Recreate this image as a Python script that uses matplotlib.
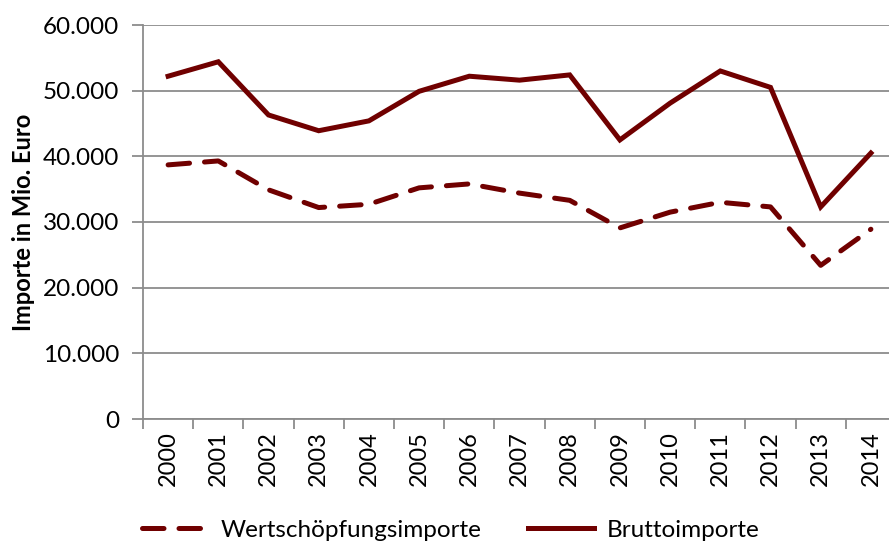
import matplotlib
matplotlib.use("Agg")
import matplotlib.pyplot as plt
from matplotlib.ticker import FuncFormatter, FixedLocator
import numpy as np

plt.rcParams['font.family'] = ['Lato', 'DejaVu Sans']

jahre = ['2000', '2001', '2002', '2003', '2004', '2005', '2006', '2007',
         '2008', '2009', '2010', '2011', '2012', '2013', '2014']
brutto = [52200, 54400, 46300, 43900, 45400, 49900, 52200, 51600,
          52400, 42500, 48100, 53000, 50500, 32300, 40500]
wertschoepfung = [38700, 39300, 34900, 32200, 32700, 35200, 35800, 34400,
                  33300, 29100, 31500, 33000, 32300, 23400, 28900]

farbe = '#700000'
grau = '#8c8c8c'

fig = plt.figure(figsize=(8.89, 5.42), dpi=100)
ax = fig.add_axes([143 / 889, 1 - 419 / 542, (896 - 143) / 889, (419 - 25) / 542])

x = np.arange(len(jahre))
ax.plot(x, wertschoepfung, color=farbe, lw=3.6, ls=(0, (4.3, 3.0)),
        dash_capstyle='round', solid_capstyle='round',
        label='Wertschöpfungsimporte')
ax.plot(x, brutto, color=farbe, lw=3.6, solid_joinstyle='miter',
        label='Bruttoimporte')

ax.set_xlim(-0.5, len(jahre) - 0.5)
ax.set_ylim(0, 60000)
ax.set_yticks(np.arange(0, 60001, 10000))
ax.yaxis.set_major_formatter(FuncFormatter(lambda v, p: f'{int(v):,}'.replace(',', '.')))
ax.set_xticks(x)
ax.set_xticklabels(jahre, rotation=90)
ax.xaxis.set_minor_locator(FixedLocator(np.arange(-0.5, len(jahre), 1)))
ax.tick_params(axis='x', which='major', length=0, pad=9, labelsize=17)
ax.tick_params(axis='x', which='minor', length=7, width=1.3, color=grau)
ax.tick_params(axis='y', length=8, width=1.3, color=grau, labelsize=17.5, pad=9)

ax.grid(axis='y', color=grau, lw=1.3)
ax.set_axisbelow(True)
for s in ['top', 'right']:
    ax.spines[s].set_visible(False)
for s in ['left', 'bottom']:
    ax.spines[s].set_color(grau)
    ax.spines[s].set_linewidth(1.3)

ax.set_ylabel('Importe in Mio. Euro', fontsize=17, fontweight='bold', labelpad=6)

leg = fig.legend(loc='lower left', bbox_to_anchor=(120 / 889, -0.038), ncol=2,
                 frameon=False, fontsize=17.5, handlelength=2.7, handletextpad=0.55,
                 columnspacing=1.9)

fig.savefig('out.png', dpi=100)
